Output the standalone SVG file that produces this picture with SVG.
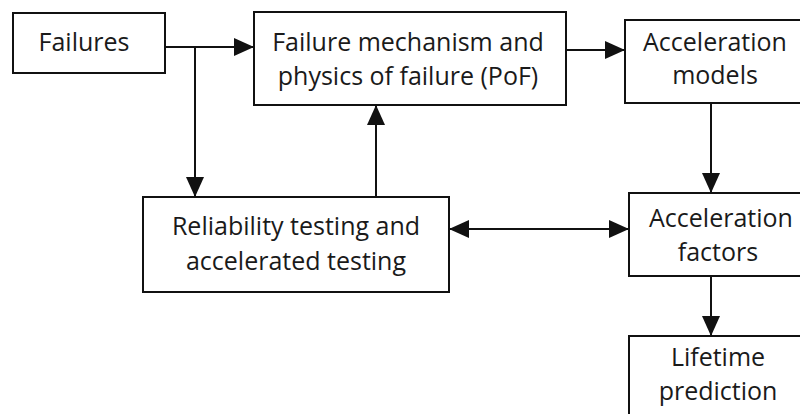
<svg xmlns="http://www.w3.org/2000/svg" width="800" height="414" viewBox="0 0 800 414">
<style>
.box{fill:#fff;stroke:#111;stroke-width:2}
.t{font-family:"Open Sans","DejaVu Sans",sans-serif;font-size:25px;fill:#1a1a1a;text-anchor:middle}
.c{stroke:#111;stroke-width:2;fill:none}
</style>
<defs>
<marker id="ah" markerUnits="userSpaceOnUse" markerWidth="20" markerHeight="18" refX="20" refY="9" orient="auto-start-reverse">
<path d="M0,0 L20,9 L0,18 z" fill="#111"/>
</marker>
</defs>
<rect width="800" height="414" fill="#fff"/>
<g id="failures"><rect class="box" x="13" y="13" width="152" height="60"/><text class="t" x="84" y="51">Failures</text></g>
<g id="pof"><rect class="box" x="254" y="12" width="312" height="93"/><text class="t" x="408" y="51">Failure mechanism and</text><text class="t" x="408" y="85">physics of failure (PoF)</text></g>
<g id="accmodels"><rect class="box" x="625" y="20" width="190" height="83"/><text class="t" x="715" y="51">Acceleration</text><text class="t" x="715" y="84">models</text></g>
<g id="reliability"><rect class="box" x="143" y="197" width="306" height="95"/><text class="t" x="296" y="235">Reliability testing and</text><text class="t" x="296" y="270">accelerated testing</text></g>
<g id="accfactors"><rect class="box" x="629" y="193" width="186" height="83"/><text class="t" x="721" y="227">Acceleration</text><text class="t" x="718" y="261">factors</text></g>
<g id="lifetime"><rect class="box" x="629" y="336" width="186" height="90"/><text class="t" x="718" y="366">Lifetime</text><text class="t" x="718" y="400">prediction</text></g>
<g id="connectors">
<line class="c" x1="165" y1="47" x2="254" y2="47" marker-end="url(#ah)"/>
<line class="c" x1="195" y1="47" x2="195" y2="197" marker-end="url(#ah)"/>
<line class="c" x1="376" y1="197" x2="376" y2="105" marker-end="url(#ah)"/>
<line class="c" x1="566" y1="50" x2="625" y2="50" marker-end="url(#ah)"/>
<line class="c" x1="711" y1="103" x2="711" y2="193" marker-end="url(#ah)"/>
<line class="c" x1="449" y1="229" x2="629" y2="229" marker-start="url(#ah)" marker-end="url(#ah)"/>
<line class="c" x1="711" y1="276" x2="711" y2="336" marker-end="url(#ah)"/>
</g>
</svg>
